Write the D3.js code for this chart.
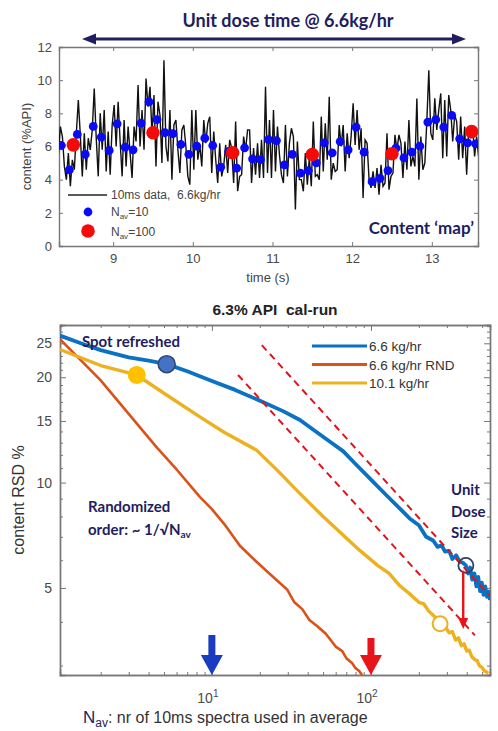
<!DOCTYPE html>
<html>
<head>
<meta charset="utf-8">
<script src="https://cdn.jsdelivr.net/npm/d3@7"></script>
<style>
  body { margin: 0; background: #fff; }
  svg { display: block; }
  .tick text { font-family: "Liberation Sans", Arial, sans-serif; fill: #4a4a4a; }
  .domain { stroke: #777; stroke-width: 1.4; }
  .tick line { stroke: #777; }
  .note { font-family: Lato, "Open Sans", sans-serif; font-weight: bold; fill: #221d5e; }
</style>
</head>
<body>
<div class="chart"></div>
<script>
// ---- top panel: 10 ms content trace ----
var rawStart = 8.3125;
var rawStep = 0.025;
var rawContent = [
  5.6, 7.2, 6.6, 4.8,   4.0, 5.6, 3.6, 5.2,   4.6, 6.8, 8.8, 6.7,   4.2, 6.8, 4.6, 6.5,
  5.8, 7.0, 9.5, 6.5,   4.2, 8.0, 5.8, 8.2,   4.5, 6.9, 4.3, 7.3,   8.5, 6.0, 8.7, 6.3,
  4.2, 7.6, 4.8, 7.2,   5.6, 4.1, 7.2, 6.3,   9.7, 6.0, 8.2, 5.8,   10.1, 8.4, 9.6, 6.7,
  9.1, 4.8, 8.7, 7.9,   5.0, 11.2, 6.0, 5.1,  8.2, 4.0, 7.3, 7.6,   5.8, 4.4, 7.0, 7.3,
  6.0, 4.2, 3.7, 8.2,   4.6, 8.2, 5.2, 6.1,   4.8, 7.6, 6.2, 7.4,   7.8, 4.4, 6.9, 5.2,
  3.8, 6.2, 4.2, 4.8,   6.1, 4.4, 6.4, 5.9,   3.8, 7.5, 3.3, 4.2,   4.3, 6.6, 5.8, 7.0,
  7.0, 3.8, 5.9, 4.3,   6.2, 4.1, 6.4, 4.1,   9.6, 4.4, 7.6, 4.1,   8.2, 4.5, 7.2, 5.5,
  4.3, 3.8, 7.3, 4.2,   6.2, 7.1, 6.6, 2.2,   6.3, 4.0, 4.0, 3.3,   5.6, 3.7, 5.3, 3.6,
  7.5, 4.2, 4.3, 4.0,   7.8, 4.5, 7.4, 5.2,   9.0, 4.0, 5.0, 4.5,   4.6, 7.3, 6.0, 7.3,
  4.5, 6.8, 5.3, 6.6,   8.6, 6.1, 8.2, 5.8,   7.1, 2.9, 6.4, 6.2,   4.0, 3.5, 4.5, 3.5,
  4.7, 3.1, 4.9, 3.6,   3.8, 6.8, 3.4, 4.2,   4.4, 6.7, 5.8, 6.7,   6.2, 4.1, 6.3, 4.6,
  7.6, 4.8, 5.4, 4.8,   8.9, 4.0, 6.6, 4.6,   5.0, 7.5, 10.6, 6.8,  6.4, 8.9, 7.0, 8.2,
  9.2, 5.3, 8.8, 5.4,   9.1, 8.2, 6.3, 7.9,   7.5, 5.2, 7.8, 5.3,   7.2, 4.3, 6.9, 6.5,
  7.2, 5.4, 6.6, 5.4
];

var avg10Start = 8.35;
var avg10 = [
  6.06, 4.59, 6.73, 5.52, 7.21, 6.57, 5.76, 7.37, 5.96, 5.80,
  7.41, 8.69, 7.62, 6.83, 6.77, 6.12, 5.53, 6.02, 6.50, 6.06,
  4.75, 5.70, 4.69, 5.92, 5.25, 5.21, 6.42, 6.36, 4.89, 5.52,
  4.40, 4.55, 5.01, 6.22, 5.62, 6.30, 5.80, 7.17, 5.66, 3.88,
  4.08, 4.55, 5.90, 5.31, 5.66, 6.02, 7.47, 7.62, 7.17, 7.88,
  6.46, 6.22, 6.16
];

var avg100Time = [8.5, 9.5, 10.5, 11.5, 12.5, 13.5];
var avg100 = [6.1, 6.83, 5.62, 5.52, 5.56, 6.9];

var timeTicks = [9, 10, 11, 12, 13];
var contentTicks = [0, 2, 4, 6, 8, 10, 12];

// ---- bottom panel: RSD vs number of averaged spectra ----
var seriesNames = ["6.6 kg/hr", "6.6 kg/hr RND", "10.1 kg/hr"];
var seriesColors = ["#0a72c4", "#d95319", "#edb120"];

var navBlue = [1.11, 1.5, 2, 3, 4, 5.2, 7, 10, 14, 20.9, 28, 35.8, 45, 55, 66.8, 80, 100, 125, 152,
  175, 200, 222, 246, 262, 278, 292, 310, 325, 343, 360, 378, 395, 408, 420, 433, 447,
  460, 472, 485, 497, 510, 523, 536, 548, 560];
var rsdBlue = [26.3, 25.0, 23.9, 22.8, 22.3, 21.8, 20.8, 19.5, 18.4, 17.0, 16.0, 15.1, 14.0, 13.1, 12.3, 11.3, 10.2, 9.2, 8.43,
  7.9, 7.55, 7.0, 6.83, 6.55, 6.62, 6.35, 6.38, 6.05, 6.2, 5.95, 5.9, 5.8, 5.5, 5.72, 5.28, 5.5,
  5.05, 5.38, 4.9, 5.18, 4.78, 5.05, 4.72, 4.88, 4.62];

var navRnd = [1.11, 2, 4.5, 6, 8.4, 10, 12, 15, 19, 24, 29.7, 33, 37, 41, 45.6, 52, 60, 66, 70, 76, 80, 84, 88];
var rsdRnd = [25.7, 19.6, 12.6, 10.9, 9.1, 8.4, 7.6, 6.6, 5.95, 5.4, 4.95, 4.55, 4.35, 4.05, 3.9, 3.7, 3.4, 3.3, 3.15, 3.05, 2.95, 2.9, 2.82];

var navFast = [1.11, 2, 3.37, 5, 8.4, 12, 19, 26, 35.8, 50, 85, 110, 130, 150, 176, 200, 215, 230, 250, 272,
  290, 310, 325, 340, 355, 370, 385, 400, 415, 430, 450, 465, 480, 500, 515, 530, 546];
var rsdFast = [24.0, 21.6, 20.3, 18.0, 15.4, 13.9, 12.4, 10.8, 9.3, 8.0, 6.4, 5.8, 5.5, 5.1, 4.8, 4.55, 4.5, 4.3, 4.15, 3.95,
  3.9, 3.72, 3.75, 3.55, 3.6, 3.42, 3.46, 3.3, 3.32, 3.18, 3.12, 3.1, 3.0, 2.96, 2.9, 2.88, 2.85];

var refLineNav = [[20.6, 560], [14.6, 450]];
var refLineRsd = [[24.7, 4.74], [20.3, 3.66]];

var spotNav = [5.2, 3.37];
var spotRsd = [21.8, 20.3];
var doseNav = [395, 272];
var doseRsd = [5.8, 3.95];

var navMajor = [10, 100];
var navMinor = [2, 3, 4, 5, 6, 7, 8, 9, 20, 30, 40, 50, 60, 70, 80, 90, 200, 300, 400, 500];
var rsdMajor = [5, 10, 15, 20, 25];
var rsdMinor = [3, 4, 6, 7, 8, 9, 11, 12, 13, 14, 16, 17, 18, 19, 21, 22, 23, 24, 26, 27, 28];

var svg = d3.select(".chart").append("svg").attr("width", 498).attr("height", 731);
var defs = svg.append("defs");
var sans = "'Liberation Sans', Arial, sans-serif";

// ================= top panel =================
var upper = { left: 59, right: 478, top: 47, bottom: 246 };
var xTime = d3.scaleLinear().domain([8.32, 13.58]).range([upper.left, upper.right]);
var yCont = d3.scaleLinear().domain([0, 12]).range([upper.bottom, upper.top]);

defs.append("clipPath").attr("id", "clipTop").append("rect")
  .attr("x", upper.left).attr("y", upper.top)
  .attr("width", upper.right - upper.left).attr("height", upper.bottom - upper.top);

svg.append("g").attr("transform", "translate(0," + upper.bottom + ")")
  .call(d3.axisBottom(xTime).tickValues(timeTicks).tickSize(-4).tickPadding(8).tickFormat(d3.format("d")))
  .selectAll("text").style("font-size", "13px");
svg.append("g").attr("transform", "translate(0," + upper.top + ")")
  .call(d3.axisTop(xTime).tickValues(timeTicks).tickSize(-4).tickFormat(""));
svg.append("g").attr("transform", "translate(" + upper.left + ",0)")
  .call(d3.axisLeft(yCont).tickValues(contentTicks).tickSize(-4).tickPadding(7))
  .selectAll("text").style("font-size", "13px");
svg.append("g").attr("transform", "translate(" + upper.right + ",0)")
  .call(d3.axisRight(yCont).tickValues(contentTicks).tickSize(-4).tickFormat(""));

var plotTop = svg.append("g").attr("clip-path", "url(#clipTop)");

plotTop.append("path")
  .datum(rawContent)
  .attr("fill", "none")
  .attr("stroke", "#111")
  .attr("stroke-width", 1.4)
  .attr("d", d3.line()
    .x(function(d, i) { return xTime(rawStart + i * rawStep); })
    .y(function(d) { return yCont(d); }));

plotTop.selectAll(".dot10")
  .data(avg10)
  .enter()
  .append("circle")
  .attr("class", "dot10")
  .attr("cx", function(d, i) { return xTime(avg10Start + i * 0.1); })
  .attr("cy", function(d) { return yCont(d); })
  .attr("r", 4.4)
  .attr("fill", "#0a0af5");

plotTop.selectAll(".dot100")
  .data(avg100)
  .enter()
  .append("circle")
  .attr("class", "dot100")
  .attr("cx", function(d, i) { return xTime(avg100Time[i]); })
  .attr("cy", function(d) { return yCont(d); })
  .attr("r", 6.8)
  .attr("fill", "#f50a0a");

// legend of the top panel
var lgTop = svg.append("g").style("font-family", sans)
  .style("font-size", "12px").style("fill", "#444");
lgTop.append("line").attr("x1", 68).attr("x2", 107).attr("y1", 195).attr("y2", 195)
  .attr("stroke", "#222").attr("stroke-width", 1.3);
lgTop.append("text").attr("x", 111).attr("y", 199).style("white-space", "pre")
  .text("10ms data,  6.6kg/hr");
lgTop.append("circle").attr("cx", 88).attr("cy", 212).attr("r", 4.4).attr("fill", "#0a0af5");
lgTop.append("circle").attr("cx", 88).attr("cy", 231).attr("r", 6.8).attr("fill", "#f50a0a");
[["=10", 216], ["=100", 236]].forEach(function(row) {
  var t = lgTop.append("text").attr("x", 111).attr("y", row[1]);
  t.append("tspan").text("N");
  t.append("tspan").attr("dy", 3).style("font-size", "8px").text("av");
  t.append("tspan").attr("dy", -3).text(row[0]);
});

svg.append("text").attr("class", "note")
  .attr("x", 474).attr("y", 234).attr("text-anchor", "end")
  .style("font-size", "17px").text("Content \u2018map\u2019");

svg.append("text")
  .attr("transform", "translate(31," + (upper.top + upper.bottom) / 2 + ") rotate(-90)")
  .attr("text-anchor", "middle")
  .style("font-family", sans)
  .style("font-size", "13px").style("fill", "#444")
  .text("content (%API)");

svg.append("text")
  .attr("x", 268).attr("y", 282).attr("text-anchor", "middle")
  .style("font-family", sans)
  .style("font-size", "13px").style("fill", "#444")
  .text("time (s)");

// double arrow + heading
var navy = "#221d5e";
svg.append("line").attr("x1", 92).attr("x2", 455).attr("y1", 39).attr("y2", 39)
  .attr("stroke", navy).attr("stroke-width", 3);
svg.append("path").attr("d", "M82,39 L96,33.5 L96,44.5 Z").attr("fill", navy);
svg.append("path").attr("d", "M466,39 L452,33.5 L452,44.5 Z").attr("fill", navy);
svg.append("text").attr("class", "note")
  .attr("x", 288).attr("y", 27).attr("text-anchor", "middle")
  .style("font-size", "18px").text("Unit dose time @ 6.6kg/hr");

// ================= bottom panel =================
var bot = { left: 60, right: 490, top: 325, bottom: 675 };
var xNav = d3.scaleLog().domain([1.11, 560]).range([bot.left, bot.right]);
var yRsd = d3.scaleLog().domain([2.82, 28.2]).range([bot.bottom, bot.top]);

defs.append("clipPath").attr("id", "clipBot").append("rect")
  .attr("x", bot.left).attr("y", bot.top)
  .attr("width", bot.right - bot.left).attr("height", bot.bottom - bot.top);

function tickGroup(axis, tx, ty) {
  return svg.append("g").attr("transform", "translate(" + tx + "," + ty + ")").call(axis);
}

tickGroup(d3.axisBottom(xNav).tickValues(navMinor).tickSize(-3).tickFormat(""), 0, bot.bottom);
tickGroup(d3.axisBottom(xNav).tickValues(navMajor).tickSize(-6).tickFormat(""), 0, bot.bottom);
tickGroup(d3.axisTop(xNav).tickValues(navMinor).tickSize(-3).tickFormat(""), 0, bot.top);
tickGroup(d3.axisTop(xNav).tickValues(navMajor).tickSize(-6).tickFormat(""), 0, bot.top);
tickGroup(d3.axisLeft(yRsd).tickValues(rsdMinor).tickSize(-3).tickFormat(""), bot.left, 0);
tickGroup(d3.axisLeft(yRsd).tickValues(rsdMajor).tickSize(-6).tickPadding(8).tickFormat(d3.format("d")), bot.left, 0)
  .selectAll("text").style("font-size", "14px");
tickGroup(d3.axisRight(yRsd).tickValues(rsdMinor).tickSize(-3).tickFormat(""), bot.right, 0);
tickGroup(d3.axisRight(yRsd).tickValues(rsdMajor).tickSize(-6).tickFormat(""), bot.right, 0);

svg.selectAll(".pow")
  .data(navMajor)
  .enter()
  .append("text")
  .attr("class", "pow")
  .attr("x", function(d) { return xNav(d) - 4; })
  .attr("y", 703)
  .attr("text-anchor", "middle")
  .style("font-family", sans)
  .style("font-size", "14px").style("fill", "#4a4a4a")
  .each(function(d) {
    var t = d3.select(this);
    t.append("tspan").text("10");
    t.append("tspan").attr("dy", -6).style("font-size", "10px").text(Math.round(Math.log10(d)));
  });

var plotBot = svg.append("g").attr("clip-path", "url(#clipBot)");

var lineRsd = d3.line()
  .x(function(d) { return xNav(d[0]); })
  .y(function(d) { return yRsd(d[1]); });

function pairUp(a, b) {
  return a.map(function(d, i) { return [d, b[i]]; });
}

// annotations under the curves
svg.append("text").attr("class", "note").attr("x", 82).attr("y", 347)
  .style("font-size", "15px").text("Spot refreshed");

var curves = [pairUp(navBlue, rsdBlue), pairUp(navRnd, rsdRnd), pairUp(navFast, rsdFast)];
var widths = [3.8, 2.6, 3.4];
var drawOrder = [1, 2, 0];

plotBot.selectAll(".curve")
  .data(drawOrder)
  .enter()
  .append("path")
  .attr("class", "curve")
  .attr("fill", "none")
  .attr("stroke-linejoin", "round")
  .attr("stroke", function(k) { return seriesColors[k]; })
  .attr("stroke-width", function(k) { return widths[k]; })
  .attr("d", function(k) { return lineRsd(curves[k]); });

plotBot.selectAll(".refline")
  .data(refLineNav)
  .enter()
  .append("path")
  .attr("class", "refline")
  .attr("fill", "none")
  .attr("stroke", "#e0141c")
  .attr("stroke-width", 2)
  .attr("stroke-dasharray", "7,5")
  .attr("d", function(d, i) { return lineRsd(pairUp(d, refLineRsd[i])); });

// filled markers: spot refreshed
plotBot.append("circle")
  .attr("cx", xNav(spotNav[0])).attr("cy", yRsd(spotRsd[0])).attr("r", 8.5)
  .attr("fill", "#4472c4").attr("stroke", "#2f4677").attr("stroke-width", 1.5);
plotBot.append("circle")
  .attr("cx", xNav(spotNav[1])).attr("cy", yRsd(spotRsd[1])).attr("r", 9)
  .attr("fill", "#ffc000");

// open markers: unit dose size
plotBot.append("circle")
  .attr("cx", xNav(doseNav[0])).attr("cy", yRsd(doseRsd[0])).attr("r", 7.5)
  .attr("fill", "none").attr("stroke", "#34405e").attr("stroke-width", 1.8);
plotBot.append("circle")
  .attr("cx", xNav(doseNav[1])).attr("cy", yRsd(doseRsd[1])).attr("r", 7.5)
  .attr("fill", "#fff").attr("stroke", "#edb120").attr("stroke-width", 2);

// red arrow from unit dose circle
var red = "#e8141a";
var ax = xNav(380);
plotBot.append("line").attr("x1", ax).attr("x2", ax)
  .attr("y1", yRsd(5.6)).attr("y2", yRsd(4.05))
  .attr("stroke", red).attr("stroke-width", 2.4);
plotBot.append("path")
  .attr("d", "M" + (ax - 5) + "," + yRsd(4.1) + " L" + (ax + 5) + "," + yRsd(4.1) + " L" + ax + "," + (yRsd(4.1) + 11) + " Z")
  .attr("fill", red);

// block arrows at N=10 and N=100
function blockArrow(n, color, topY) {
  var cx = xNav(n);
  var b = bot.bottom;
  svg.append("path")
    .attr("d", "M" + (cx - 3.5) + "," + topY + " L" + (cx + 3.5) + "," + topY +
      " L" + (cx + 3.5) + "," + (b - 20) + " L" + (cx + 11) + "," + (b - 20) +
      " L" + cx + "," + b + " L" + (cx - 11) + "," + (b - 20) +
      " L" + (cx - 3.5) + "," + (b - 20) + " Z")
    .attr("fill", color);
}
blockArrow(10, "#1a3cc0", 635);
blockArrow(100, "#e8141a", 638);

svg.append("g").attr("class", "note").style("font-size", "15px")
  .selectAll("text")
  .data(["Unit", "Dose", "Size"])
  .enter()
  .append("text")
  .attr("x", 451)
  .attr("y", function(d, i) { return 495 + i * 21.5; })
  .text(function(d) { return d; });

svg.append("text").attr("class", "note").attr("x", 88).attr("y", 512)
  .style("font-size", "15px").text("Randomized");
var ord = svg.append("text").attr("class", "note").attr("x", 88).attr("y", 535)
  .style("font-size", "15px");
ord.append("tspan").text("order: ~ 1/\u221AN");
ord.append("tspan").attr("dy", 3).style("font-size", "10px").text("av");

// legend of the bottom panel
var lgBot = svg.append("g").style("font-family", sans)
  .style("font-size", "13.5px").style("fill", "#333");
seriesNames.forEach(function(name, i) {
  var ly = 346 + i * 18.5;
  lgBot.append("line").attr("x1", 312).attr("x2", 367).attr("y1", ly).attr("y2", ly)
    .attr("stroke", seriesColors[i]).attr("stroke-width", 3);
  lgBot.append("text").attr("x", 369).attr("y", ly + 5).text(name);
});

svg.append("text")
  .attr("x", 275).attr("y", 315).attr("text-anchor", "middle")
  .style("font-family", sans).style("white-space", "pre")
  .style("font-weight", "bold").style("font-size", "15.5px").style("fill", "#222")
  .text("6.3% API  cal-run");

svg.append("text")
  .attr("transform", "translate(24," + (bot.top + bot.bottom) / 2 + ") rotate(-90)")
  .attr("text-anchor", "middle")
  .style("font-family", sans)
  .style("font-size", "16px").style("fill", "#333")
  .text("content RSD %");

var xl = svg.append("text").attr("x", 83).attr("y", 723)
  .style("font-family", sans)
  .style("font-size", "16px").style("fill", "#333");
xl.append("tspan").style("fill", navy).style("font-size", "17px").text("N");
xl.append("tspan").attr("dy", 4).style("fill", navy).style("font-size", "12px").text("av");
xl.append("tspan").attr("dy", -4).text(": nr of 10ms spectra used in average");
</script>
</body>
</html>
